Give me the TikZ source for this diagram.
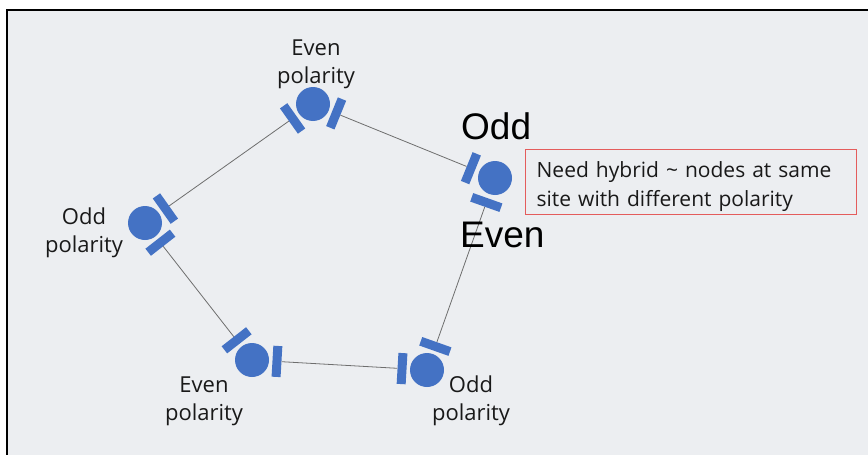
\documentclass[tikz,border=0pt]{standalone}
\usepackage{fontspec}
\setmainfont{Open Sans}
\newfontfamily\bigfont{Liberation Sans}
\usetikzlibrary{calc}

\definecolor{nodeblue}{RGB}{68,114,196}
\definecolor{slidegray}{RGB}{236,238,241}
\definecolor{linkgray}{RGB}{110,110,110}
\definecolor{boxred}{RGB}{228,92,92}

\tikzset{
	site/.style={circle, fill=nodeblue, minimum size=34pt, inner sep=0pt},
	plate/.style={fill=nodeblue, minimum width=9pt, minimum height=31pt, inner sep=0pt, sloped},
	link/.style={draw=linkgray, line width=0.8pt},
	polarity/.style={align=center, font=\fontsize{22}{28}\selectfont, text=black!90},
	bigtag/.style={font=\bigfont\fontsize{37}{40}\selectfont, inner sep=0pt},
}

\begin{document}
\begin{tikzpicture}[x=1pt, y=-1pt]
		\useasboundingbox (0,0) rectangle (868,455);
		
		% Slide background and frame
		\fill[white] (0,0) rectangle (868,455);
		\fill[slidegray] (8,11) rectangle (868,455);
		\draw[line width=2.5pt] (7,455) -- (7,10) -- (868,10);
		
		% Sites
		\node[site] (top) at (313,104) {};
		\node[site] (hyb) at (495,178) {};
		\node[site] (br) at (427,370) {};
		\node[site] (bl) at (252,360) {};
		\node[site] (left) at (145,223) {};
		
		% Plates, one towards each neighbour
		\path (top) -- ($(top)!25pt!(left)$) node[plate, pos=1] (top-l) {};
		\path (top) -- ($(top)!25pt!(hyb)$) node[plate, pos=1] (top-h) {};
		\path (hyb) -- ($(hyb)!26pt!(top)$) node[plate, pos=1] (hyb-t) {};
		\path (hyb) -- ($(hyb)!26pt!(br)$) node[plate, pos=1] (hyb-b) {};
		\path (br) -- ($(br)!25pt!(hyb)$) node[plate, pos=1] (br-h) {};
		\path (br) -- ($(br)!25pt!(bl)$) node[plate, pos=1] (br-b) {};
		\path (bl) -- ($(bl)!25pt!(br)$) node[plate, pos=1] (bl-b) {};
		\path (bl) -- ($(bl)!25pt!(left)$) node[plate, pos=1] (bl-l) {};
		\path (left) -- ($(left)!25pt!(bl)$) node[plate, pos=1] (left-b) {};
		\path (left) -- ($(left)!25pt!(top)$) node[plate, pos=1] (left-t) {};
		
		% Links
		\draw[link] (top-h) -- (hyb-t);
		\draw[link] (hyb-b) -- (br-h);
		\draw[link] (br-b) -- (bl-b);
		\draw[link] (bl-l) -- (left-b);
		\draw[link] (left-t) -- (top-l);
		
		% Polarity labels
		\node[polarity, anchor=base] (lab-top) at (316,83) {Even\\polarity};
		\node[polarity, anchor=base] (lab-left) at (84,252) {Odd\\polarity};
		\node[polarity, anchor=base] (lab-bl) at (204,420) {Even\\polarity};
		\node[polarity, anchor=base] (lab-br) at (471,420) {Odd\\polarity};
		
		% Hybrid site
		\node[bigtag, anchor=base west] (odd-tag) at (461,139) {Odd};
		\node[bigtag, anchor=base west] (even-tag) at (460,247) {Even};
		\node[draw=boxred, line width=1.3pt, minimum height=65pt, inner xsep=11pt,
			text width=309pt, align=left, font=\fontsize{21}{29}\selectfont, text=black!90,
			anchor=north west] (note) at (525,149)
			{\rule{0pt}{24pt}Need hybrid \textasciitilde{} nodes at same\\site with different polarity};
	\end{tikzpicture}
\end{document}
